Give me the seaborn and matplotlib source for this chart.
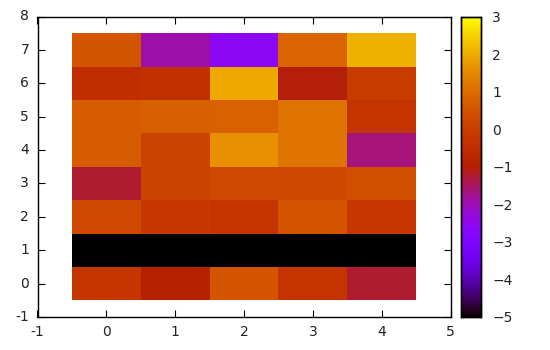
import numpy as np
import pandas as pd
import matplotlib
matplotlib.use("Agg")
import matplotlib.pyplot as plt
import seaborn as sns

# rows: y = 0..7 (bottom to top), columns: x = 0..4
x_labels = [0, 1, 2, 3, 4]
y_labels = [0, 1, 2, 3, 4, 5, 6, 7]
row0 = [-0.28, -0.98, 0.52, -0.30, -1.23]
row1 = [-5.0, -5.0, -5.0, -5.0, -5.0]
row2 = [0.25, -0.18, -0.30, 0.52, -0.18]
row3 = [-1.23, 0.10, 0.25, 0.22, 0.39]
row4 = [0.68, 0.10, 1.62, 1.15, -1.65]
row5 = [0.68, 0.78, 0.80, 1.15, -0.30]
row6 = [-0.48, -0.42, 1.94, -1.05, -0.07]
row7 = [0.55, -1.93, -2.59, 0.85, 2.07]
x_ticks = [-1, 0, 1, 2, 3, 4, 5]
y_ticks = [-1, 0, 1, 2, 3, 4, 5, 6, 7, 8]
cb_ticks = [-5, -4, -3, -2, -1, 0, 1, 2, 3]

df = pd.DataFrame([row0, row1, row2, row3, row4, row5, row6, row7],
                  index=y_labels, columns=x_labels)

sns.set_style("white")
plt.rcParams['font.family'] = ['DejaVu Sans']
plt.rcParams['font.size'] = 10

fig = plt.figure(figsize=(5.5, 3.5), dpi=100)
ax = fig.add_axes([37.5/550, 1-317/350, (450.5-37.5)/550, (317-16.5)/350])
cax = fig.add_axes([461/550, 1-317/350, 20/550, (317-16.5)/350])

sns.heatmap(df, ax=ax, cmap="gnuplot", vmin=-5, vmax=3, cbar=True, cbar_ax=cax,
            cbar_kws={"ticks": cb_ticks})

ax.set_xlim(-0.5, 5.5)
ax.set_ylim(-0.5, 8.5)
ax.set_xticks([t + 0.5 for t in x_ticks])
ax.set_xticklabels([str(t) for t in x_ticks], rotation=0, fontsize=10)
ax.set_yticks([t + 0.5 for t in y_ticks])
ax.set_yticklabels([str(t) for t in y_ticks], rotation=0, fontsize=10)
ax.set_xlabel("")
ax.set_ylabel("")
for s in ax.spines.values():
    s.set_visible(True)
    s.set_color("black")
    s.set_linewidth(1.0)
ax.tick_params(direction="in", length=5, width=0.8, top=True, right=True,
               bottom=True, left=True, colors="black", labelcolor="#222222",
               pad=6)

cax.tick_params(direction="in", length=4, width=0.8, left=True, right=True,
                colors="black", labelcolor="#222222", labelsize=10, pad=8)
cax.yaxis.set_ticks_position("both")
for s in cax.spines.values():
    s.set_visible(True)
    s.set_color("black")
    s.set_linewidth(1.0)

fig.savefig("out.png", dpi=100)
